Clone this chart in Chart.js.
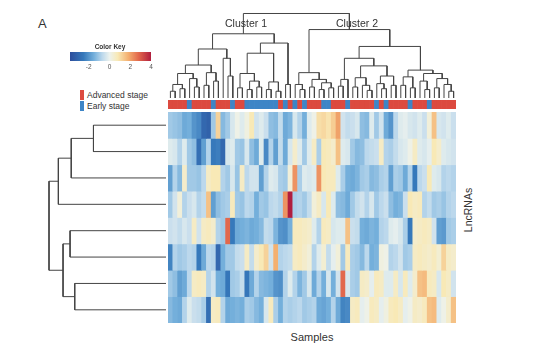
<!DOCTYPE html>
<html><head><meta charset="utf-8">
<script src="https://cdn.jsdelivr.net/npm/chart.js@4.4.1/dist/chart.umd.min.js"></script>
<style>
html,body{margin:0;padding:0;background:#fff;}
body{width:554px;height:357px;position:relative;overflow:hidden;font-family:"Liberation Sans",Arial,sans-serif;color:#222;}
canvas{position:absolute;}
.t{position:absolute;white-space:nowrap;line-height:1;}
.cen{transform:translate(-50%,-50%);}
.sw{position:absolute;width:3.5px;height:10px;}
</style></head><body>
<canvas id="topDen" style="left:168px;top:8px" width="288" height="90"></canvas>
<canvas id="annot" style="left:168px;top:100px" width="288" height="9"></canvas>
<canvas id="heat" style="left:168px;top:112px" width="288" height="211"></canvas>
<canvas id="leftDen" style="left:40px;top:112px" width="126" height="211"></canvas>
<canvas id="key" style="left:62px;top:52px" width="98" height="18"></canvas>

<div class="t" style="left:38px;top:17px;font-size:13px;color:#333">A</div>
<div class="t cen" style="left:246px;top:23px;font-size:10.5px;color:#333">Cluster 1</div>
<div class="t cen" style="left:357px;top:23px;font-size:10.5px;color:#333">Cluster 2</div>
<div class="t cen" style="left:110px;top:47px;font-size:6.5px;font-weight:bold;color:#333">Color Key</div>
<div class="sw" style="left:80px;top:90px;background:#dc4a3f"></div>
<div class="t" style="left:87px;top:95px;font-size:8.5px;transform:translateY(-50%);color:#333">Advanced stage</div>
<div class="sw" style="left:80px;top:101px;background:#3d85c6"></div>
<div class="t" style="left:87px;top:106px;font-size:8.5px;transform:translateY(-50%);color:#333">Early stage</div>
<div class="t cen" style="left:312px;top:337px;font-size:11px;color:#333">Samples</div>
<div class="t cen" style="left:468px;top:210px;font-size:10.5px;color:#333;transform:translate(-50%,-50%) rotate(-90deg)">LncRNAs</div>

<script>
// ---------------- DATA ----------------
const samples = Array.from({length: 60}, (_, i) => 'S' + (i + 1));

// A = advanced stage, E = early stage (column order of the heatmap)
const stage = [
 'A','A','A','A','E','A','A','A','A','E',
 'A','A','A','E','A','A','E','E','E','E',
 'E','E','E','A','E','A','E','A','E','A',
 'A','A','E','E','A','A','A','E','A','A',
 'A','A','A','E','A','E','A','A','A','A',
 'E','A','A','A','E','A','A','A','A','A'];

const lnc1 = [-1.0,-1.1,-1.2,-1.6,-1.5,-2.0,-2.2,-3.0,-3.2,-1.0, 1.2,-1.3,-1.0,-0.3,0.1,-0.2,0.2,0.8,-0.4,-0.2,
  -0.5,-1.2,-1.3,-0.6,-1.6,-1.4,-0.3,-0.8,-1.5,-0.2, 0.1,1.0,1.1,0.9,1.3,2.0,-0.4,-0.6,-0.5,-0.3,
  -1.2,-1.3,-0.2,-1.0,-0.4,-1.6,-2.0,-0.7,-0.2,-0.1, -0.3,-0.4,-0.2,-0.5,0.3,1.5,-0.3,-0.4,-0.2,-0.5];
const lnc2 = [-0.2,-0.3,-0.8,-0.2,-1.0,-1.2,-2.8,-1.8,-0.8,-2.5, -2.4,-3.0,-0.3,-0.2,-1.0,-1.1,-0.3,-1.2,-1.6,-0.2,
  -2.2,-0.8,-1.8,-0.6,-1.6,-0.3,0.5,-0.2,-1.0,-0.2, 0.6,-0.9,0.8,0.7,0.5,1.5,-0.2,-0.3,-1.0,-1.3,
  -1.2,-0.7,-0.6,-0.5,0.6,-0.8,-0.9,-0.6,-0.3,-0.2, 0.1,0.6,-0.2,-0.3,-0.1,0.8,0.5,-0.2,-0.3,-0.4];
const lnc3 = [-1.8,-0.8,-1.3,0.5,-1.0,-1.0,-1.1,-0.7,0.6,0.8, 0.8,-0.8,-1.0,-0.3,-1.1,0.6,-0.7,-0.4,-0.4,-1.8,
  -0.8,-0.2,-0.3,-0.9,-1.0,0.3,2.2,-0.9,-0.2,-0.3, -0.2,2.2,0.8,0.7,0.7,-0.2,-0.9,-1.5,-1.6,-1.4,
  -1.0,-0.9,-1.3,-1.2,-0.9,-0.8,-1.8,-0.9,-1.0,-1.6, -0.8,-2.5,-0.7,-0.5,0.8,-0.2,-0.3,-0.8,-0.7,-0.8];
const lnc4 = [-1.0,-0.4,0.3,-0.8,-0.5,-0.3,-0.8,-0.6,1.5,-1.8, -1.2,-1.0,-0.9,0.7,-1.0,-1.1,-0.7,-0.8,-1.5,-1.0,
  -1.1,-0.7,-0.6,-0.8,2.2,4.0,-0.9,-0.8,-1.0,-0.6, 0.3,0.6,-0.3,0.8,-0.2,-1.2,-1.3,-1.6,-1.0,-0.6,
  -0.4,-0.8,-0.3,-1.0,-0.7,-0.5,-1.2,-1.5,-1.4,-0.5, 0.8,0.6,0.7,-0.8,-0.6,-1.0,-0.9,-1.1,-0.8,-0.7];
const lnc5 = [-0.5,-0.4,-0.6,-0.3,-0.5,0.6,-0.4,0.6,0.7,0.5, -0.8,-1.0,2.8,-2.5,-1.6,-1.5,-1.4,-1.6,-1.5,-1.3,
  -0.6,-0.7,-1.4,-2.0,-2.1,-1.5,0.7,0.7,0.6,0.5, -0.2,-0.8,0.7,0.6,-0.3,-0.2,-0.2,1.5,-0.5,-0.6,
  -1.5,-1.6,-1.4,-1.5,-0.8,-0.7,-0.2,-0.1,-0.3,-0.9, -2.5,0.5,0.6,0.7,0.6,-0.4,-1.8,-1.9,-1.0,-0.9];
const lnc6 = [-2.3,-0.8,-1.0,-0.9,-0.7,-0.8,-2.5,-1.6,-0.7,-0.8, -3.0,-1.5,-1.0,-1.0,-0.6,-0.5,0.6,-0.6,0.5,0.8,
  1.2,-0.4,1.8,-0.8,-0.7,-0.6,0.6,0.7,0.5,0.3, -0.8,-0.2,0.4,-0.6,-0.1,0.3,-1.0,0.7,-0.9,-1.0,
  -1.3,-0.7,-1.5,-1.4,0.2,0.1,-0.8,-0.7,-0.4,-1.0, -0.9,0.6,0.7,0.6,0.5,0.7,0.4,1.2,0.6,0.5];
const lnc7 = [-1.0,-1.2,-1.8,-1.6,-0.7,0.6,0.7,0.6,-0.8,-0.4, -1.5,-1.6,-2.6,-1.0,-0.9,-0.6,-2.6,-1.6,-0.8,-1.3,
  -1.4,-1.5,-2.0,-2.1,-0.8,-0.2,-0.8,-1.4,-1.0,-0.3, -1.6,-0.8,-1.5,-0.3,-1.5,-0.4,2.8,-0.3,-0.9,-1.0,
  0.6,0.5,-0.1,0.7,0.6,-0.2,-0.2,0.6,-0.3,0.7, -0.2,0.5,1.5,1.6,0.7,0.6,-0.3,0.8,0.6,-0.4];
const lnc8 = [-1.3,-1.5,-1.6,-0.8,-0.2,-0.5,-0.6,-0.9,-2.8,0.6, 0.7,-0.8,-1.6,-1.5,-1.4,-1.5,-0.9,-1.0,-1.3,-1.5,
  -0.3,0.7,-0.9,-1.5,-0.8,-0.9,-0.8,-0.7,-1.0,-0.9, -0.8,-1.6,-1.7,-1.5,-0.8,-1.6,-2.3,-2.2,0.6,0.7,
  -0.1,0.1,0.7,0.6,-0.1,0.2,0.7,0.8,0.6,-0.1, 0.1,0.6,0.5,0.7,1.5,1.6,-0.2,0.1,0.5,1.5];

// column dendrogram: [mergeHeight, left, right]; leaves are column indices
const clusterA = [5.8,
  [3.9, [2.9, [1.6, [0.8, 0, 1], [1.1, 2, 3]], [2.3, 4, [1.3, 5, 6]]], [3.0, [1.5, 7, 8], [2.0, 9, 10]]],
  [4.7, 11, [2.6, 12, 13]]];
const clusterB = [6.5,
  [5.3, [2.9, [1.2, 14, 15], [2.0, [1.0, 16, 17], [1.3, 18, 19]]], [1.9, [1.0, 20, 21], [0.8, 22, 23]]],
  [1.6, 24, 25]];
const clusterC = [3.0, [1.6, 26, [1.0, 27, 28]], [2.2, [1.3, 29, 30], [1.8, [1.0, 31, 32], [1.2, 33, 34]]]];
const clusterD1 = [4.7, [2.2, [1.4, 35, 36], 37],
  [3.8, [2.4, [1.3, 38, 39], [1.5, 40, [0.9, 41, 42]]], [2.6, [1.7, 43, [1.1, 44, 45]], [1.5, 46, 47]]]];
const clusterD2 = [3.3, [2.5, [1.5, 48, 49], [1.2, 50, 51]],
  [2.9, [2.0, 52, [1.0, 53, 54]], [2.3, [1.2, 55, 56], [1.6, 57, [0.8, 58, 59]]]]];
const colTree = [10, [7.6, clusterA, clusterB], [8.1, clusterC, [6.1, clusterD1, clusterD2]]];

// row dendrogram (rows 0..7 top to bottom)
const rowTree = [10, [9.2, [8.1, [6.2, 0, 1], 2], 3], [8.8, [8.2, 4, 5], [7.8, 6, 7]]];

const keyRange = [-3.8, 4];
const keyTicks = [-2, 0, 2, 4];
const colorStops = [[-3.8,'#2d4e9c'],[-2.5,'#3679bb'],[-1.5,'#74afdb'],[-0.7,'#bcd8ec'],[0,'#ecf2ee'],
  [0.8,'#f8e9b6'],[1.8,'#f4b070'],[2.8,'#e2684c'],[4,'#b01e3e']];
const stageColors = {A: '#dc4a3f', E: '#3d85c6'};

// ---------------- HELPERS ----------------
function hex(c){return [parseInt(c.slice(1,3),16),parseInt(c.slice(3,5),16),parseInt(c.slice(5,7),16)];}
function colorFor(v){
  if (v <= colorStops[0][0]) return colorStops[0][1];
  for (let i = 1; i < colorStops.length; i++) {
    if (v <= colorStops[i][0]) {
      const [v0,c0] = colorStops[i-1], [v1,c1] = colorStops[i];
      const t = (v - v0) / (v1 - v0), a = hex(c0), b = hex(c1);
      return 'rgb(' + a.map((x,k)=>Math.round(x + (b[k]-x)*t)).join(',') + ')';
    }
  }
  return colorStops[colorStops.length-1][1];
}
function layoutTree(node, segs){
  if (typeof node === 'number') return {p: node, h: 0};
  const [h, a, b] = node;
  const L = layoutTree(a, segs), R = layoutTree(b, segs);
  segs.push([[L.p, L.h], [L.p, h], [R.p, h], [R.p, R.h]]);
  return {p: (L.p + R.p) / 2, h: h};
}
Chart.defaults.font.family = '"Liberation Sans", Arial, sans-serif';
Chart.defaults.animation = false;
Chart.defaults.events = [];
const noPlug = {legend: {display: false}, tooltip: {enabled: false}, title: {display: false}};

// ---------------- HEATMAP ----------------
const rows = [lnc1, lnc2, lnc3, lnc4, lnc5, lnc6, lnc7, lnc8];
new Chart(document.getElementById('heat'), {
  type: 'bar',
  data: {labels: samples, datasets: rows.map((vals, r) => ({
    data: vals.map(() => [r, r + 1]),
    backgroundColor: vals.map(colorFor),
    borderWidth: 0, grouped: false, barPercentage: 1, categoryPercentage: 1
  }))},
  options: {responsive: false, layout: {padding: 0}, plugins: noPlug,
    scales: {x: {display: false}, y: {display: false, min: 0, max: rows.length, reverse: true}}}
});

// ---------------- ANNOTATION BAR ----------------
new Chart(document.getElementById('annot'), {
  type: 'bar',
  data: {labels: samples, datasets: [{
    data: stage.map(() => 1),
    backgroundColor: stage.map(s => stageColors[s]),
    borderWidth: 0, barPercentage: 1, categoryPercentage: 1
  }]},
  options: {responsive: false, layout: {padding: 0}, plugins: noPlug,
    scales: {x: {display: false}, y: {display: false, min: 0, max: 1}}}
});

// ---------------- COLUMN DENDROGRAM ----------------
const colSegs = []; layoutTree(colTree, colSegs);
new Chart(document.getElementById('topDen'), {
  type: 'scatter',
  data: {datasets: colSegs.map(s => ({
    data: s.map(([p, h]) => ({x: p, y: h})),
    showLine: true, borderColor: '#444444', borderWidth: 1, pointRadius: 0, clip: false, tension: 0
  }))},
  options: {responsive: false, layout: {padding: 0}, plugins: noPlug,
    scales: {x: {display: false, min: -0.5, max: samples.length - 0.5},
             y: {display: false, min: 0, max: 10.65}}}
});

// ---------------- ROW DENDROGRAM ----------------
const rowSegs = []; layoutTree(rowTree, rowSegs);
new Chart(document.getElementById('leftDen'), {
  type: 'scatter',
  data: {datasets: rowSegs.map(s => ({
    data: s.map(([p, h]) => ({x: h, y: p + 0.5})),
    showLine: true, borderColor: '#444444', borderWidth: 1, pointRadius: 0, clip: false, tension: 0
  }))},
  options: {responsive: false, layout: {padding: 0}, plugins: noPlug,
    scales: {x: {display: false, min: 0, max: 10.77, reverse: true},
             y: {display: false, min: 0, max: rows.length, reverse: true}}}
});

// ---------------- COLOR KEY ----------------
new Chart(document.getElementById('key'), {
  type: 'bar',
  data: {labels: ['key'], datasets: [{
    data: [keyRange],
    backgroundColor: (ctx) => {
      const ca = ctx.chart.chartArea; if (!ca) return '#ccc';
      const xs = ctx.chart.scales.x;
      const g = ctx.chart.ctx.createLinearGradient(ca.left, 0, ca.right, 0);
      colorStops.forEach(([v, c]) => g.addColorStop(Math.min(1, Math.max(0, (xs.getPixelForValue(v) - ca.left) / (ca.right - ca.left))), c));
      return g;
    },
    borderWidth: 0, barPercentage: 1, categoryPercentage: 1
  }]},
  options: {indexAxis: 'y', responsive: false, layout: {padding: {left: 8, right: 9, top: 0, bottom: 0}}, plugins: noPlug,
    scales: {
      y: {display: false},
      x: {min: keyRange[0], max: keyRange[1], border: {display: false},
          grid: {display: false, drawTicks: false},
          afterBuildTicks: (ax) => { ax.ticks = keyTicks.map(v => ({value: v})); },
          ticks: {padding: 2, color: '#555', font: {size: 6.5}, maxRotation: 0, autoSkip: false}}
    }}
});
</script>
</body></html>
